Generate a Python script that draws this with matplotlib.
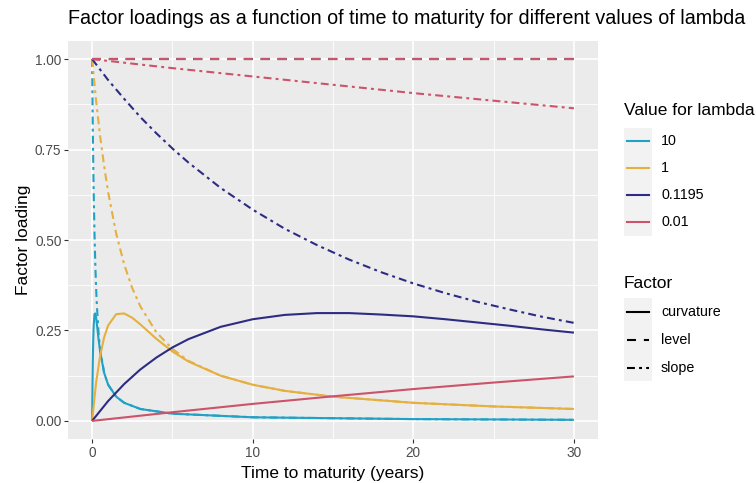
import matplotlib
matplotlib.use('Agg')
import matplotlib.pyplot as plt
from matplotlib.lines import Line2D
from matplotlib.patches import Rectangle

plt.rcParams['font.family'] = ['Liberation Sans', 'DejaVu Sans']

# values
lambdas = ['10', '1', '0.1195', '0.01']
colors = ['#21a1c6', '#e5b040', '#2d2c83', '#cc5369']
factors = ['curvature', 'level', 'slope']

t_10 = [0, 0.025, 0.05, 0.075, 0.1, 0.15, 0.2, 0.25, 0.3, 0.4, 0.5, 0.75, 1, 1.5, 2, 3, 5, 10, 20, 30]
slope_10 = [1.0, 0.885, 0.787, 0.704, 0.632, 0.518, 0.432, 0.367, 0.317, 0.245, 0.199, 0.133, 0.100,
            0.067, 0.050, 0.033, 0.020, 0.010, 0.005, 0.003]
curv_10 = [0.0, 0.106, 0.180, 0.231, 0.264, 0.295, 0.297, 0.285, 0.267, 0.227, 0.192, 0.133, 0.100,
           0.067, 0.050, 0.033, 0.020, 0.010, 0.005, 0.003]

t_1 = [0, 0.25, 0.5, 0.75, 1, 1.5, 2, 2.5, 3, 4, 5, 6, 8, 10, 12, 15, 20, 25, 30]
slope_1 = [1.0, 0.885, 0.787, 0.704, 0.632, 0.518, 0.432, 0.367, 0.317, 0.245, 0.199, 0.166, 0.125,
           0.100, 0.083, 0.067, 0.050, 0.040, 0.033]
curv_1 = [0.0, 0.106, 0.180, 0.231, 0.264, 0.295, 0.297, 0.285, 0.267, 0.227, 0.192, 0.164, 0.125,
          0.100, 0.083, 0.067, 0.050, 0.040, 0.033]

t_01195 = [0, 1, 2, 3, 4, 5, 6, 8, 10, 12, 14, 16, 18, 20, 22, 24, 26, 28, 30]
slope_01195 = [1.0, 0.942, 0.890, 0.840, 0.795, 0.753, 0.714, 0.644, 0.584, 0.531, 0.486, 0.446,
               0.411, 0.380, 0.353, 0.329, 0.308, 0.288, 0.271]
curv_01195 = [0.0, 0.055, 0.102, 0.142, 0.175, 0.203, 0.226, 0.260, 0.281, 0.293, 0.298, 0.298,
              0.294, 0.289, 0.281, 0.272, 0.263, 0.253, 0.244]

t_001 = [0, 5, 10, 15, 20, 25, 30]
slope_001 = [1.0, 0.975, 0.952, 0.929, 0.906, 0.885, 0.864]
curv_001 = [0.0, 0.024, 0.047, 0.068, 0.088, 0.106, 0.123]

level_t = [0, 30]
level_v = [1.0, 1.0]

series = [
    (t_10, curv_10, slope_10),
    (t_1, curv_1, slope_1),
    (t_01195, curv_01195, slope_01195),
    (t_001, curv_001, slope_001),
]

W, H = 756, 483
fig = plt.figure(figsize=(W / 100, H / 100), dpi=100)
ax = fig.add_axes([68 / W, 1 - 439 / H, (598 - 68) / W, (439 - 41) / H])
ax.set_facecolor('#ebebeb')
for s in ax.spines.values():
    s.set_visible(False)

lw = 1.5
styles = {'curvature': '-', 'level': (0, (4.3, 3.8)), 'slope': (0, (3.8, 2.0, 1.4, 2.0))}

for (t, curv, slope), col in zip(series, colors):
    ax.plot(t, curv, color=col, lw=lw, ls=styles['curvature'], solid_capstyle='butt')
    ax.plot(level_t, level_v, color=col, lw=lw, ls=styles['level'], dash_capstyle='butt')
    ax.plot(t, slope, color=col, lw=lw, ls=styles['slope'], dash_capstyle='butt')

ax.set_xlim(-1.5, 31.5)
ax.set_ylim(-0.05, 1.05)
ax.set_xticks([0, 10, 20, 30])
ax.set_yticks([0, 0.25, 0.5, 0.75, 1.0])
ax.set_yticklabels(['0.00', '0.25', '0.50', '0.75', '1.00'])
ax.set_xticks([5, 15, 25], minor=True)
ax.set_yticks([0.125, 0.375, 0.625, 0.875], minor=True)
ax.grid(which='major', color='white', lw=1.2)
ax.grid(which='minor', color='white', lw=0.6)
ax.set_axisbelow(True)
ax.tick_params(which='major', length=2.7, width=0.8, color='#333333', labelcolor='#4d4d4d',
               labelsize=9.8, pad=2)
ax.tick_params(which='minor', length=0)

ax.set_xlabel('Time to maturity (years)', fontsize=12.5, labelpad=5)
ax.set_ylabel('Factor loading', fontsize=12.5, labelpad=3)

fig.text(68 / W, 1 - 18 / H, 'Factor loadings as a function of time to maturity for different values of lambda',
         fontsize=14.2, ha='left', va='center')


def px(x, y):
    return x / W, 1 - y / H


# lambda legend
fig.text(*px(624, 110), 'Value for lambda', fontsize=12.5, ha='left', va='center')
fig.patches.append(Rectangle(px(624, 235.5), 28 / W, 108 / H, transform=fig.transFigure,
                             facecolor='#f2f2f2', edgecolor='none'))
for i, (lab, col) in enumerate(zip(lambdas, colors)):
    yc = 141 + 27 * i
    fig.lines.append(Line2D([627 / W, 649 / W], [1 - yc / H] * 2, transform=fig.transFigure,
                            color=col, lw=lw))
    fig.text(*px(661, yc), lab, fontsize=10.3, ha='left', va='center')

# factor legend
fig.text(*px(624, 283), 'Factor', fontsize=12.5, ha='left', va='center')
fig.patches.append(Rectangle(px(624, 381), 28 / W, 83 / H, transform=fig.transFigure,
                             facecolor='#f2f2f2', edgecolor='none'))
for i, f in enumerate(factors):
    yc = 312 + 28 * i
    fig.lines.append(Line2D([627 / W, 649 / W], [1 - yc / H] * 2, transform=fig.transFigure,
                            color='black', lw=lw, ls=styles[f], dash_capstyle='butt'))
    fig.text(*px(661, yc), f, fontsize=10.3, ha='left', va='center')

fig.savefig('out.png', dpi=100, facecolor='white')
